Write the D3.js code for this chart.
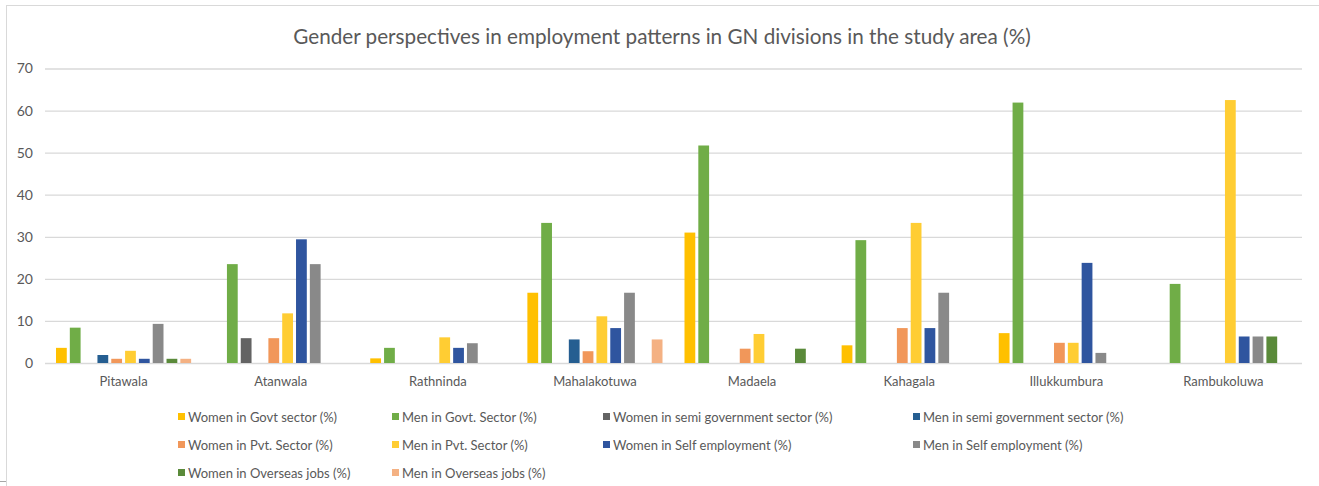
<!DOCTYPE html>
<html>
<head>
<meta charset="utf-8">
<script src="https://cdn.jsdelivr.net/npm/d3@7"></script>
<style>
  html, body { margin: 0; padding: 0; background: #fff; }
  svg { display: block; }
  text { font-family: Lato, "Open Sans", sans-serif; fill: #595959; }
</style>
</head>
<body>
<svg id="chart" width="1319" height="486"></svg>
<script>
const categories = ["Pitawala", "Atanwala", "Rathninda", "Mahalakotuwa", "Madaela", "Kahagala", "Illukkumbura", "Rambukoluwa"];
const seriesNames = [
  "Women in Govt sector (%)", "Men in Govt. Sector (%)",
  "Women in semi government sector (%)", "Men in semi government sector (%)",
  "Women in Pvt. Sector (%)", "Men in Pvt. Sector (%)",
  "Women in Self employment (%)", "Men in Self employment (%)",
  "Women in Overseas jobs (%)", "Men in Overseas jobs (%)"
];
const womenGovt     = [3.6, 0,    1.1, 16.7, 31.0, 4.2,  7.1,  0];
const menGovt       = [8.4, 23.5, 3.6, 33.3, 51.7, 29.2, 61.9, 18.8];
const womenSemiGovt = [0,   5.9,  0,   0,    0,    0,    0,    0];
const menSemiGovt   = [1.9, 0,    0,   5.6,  0,    0,    0,    0];
const womenPvt      = [1.0, 5.9,  0,   2.8,  3.4,  8.3,  4.8,  0];
const menPvt        = [2.9, 11.8, 6.1, 11.1, 6.9,  33.3, 4.8,  62.5];
const womenSelf     = [1.0, 29.4, 3.6, 8.3,  0,    8.3,  23.8, 6.3];
const menSelf       = [9.3, 23.5, 4.7, 16.7, 0,    16.7, 2.4,  6.3];
const womenOverseas = [1.0, 0,    0,   0,    3.4,  0,    0,    6.3];
const menOverseas   = [1.0, 0,    0,   5.6,  0,    0,    0,    0];
const yTicks = [0, 10, 20, 30, 40, 50, 60, 70];
const colors = ["#FFC000", "#70AD47", "#636363", "#255E91", "#F1975A", "#FFCD33", "#2F559F", "#898989", "#5A8A3A", "#F4B183"];
const title = "Gender perspectives in employment patterns in GN divisions in the study area (%)";

const seriesValues = [womenGovt, menGovt, womenSemiGovt, menSemiGovt, womenPvt, menPvt, womenSelf, menSelf, womenOverseas, menOverseas];

const svg = d3.select("#chart");

// frame
svg.append("line").attr("x1", 6.5).attr("x2", 6.5).attr("y1", 5).attr("y2", 486).attr("stroke", "#D9D9D9");
svg.append("line").attr("x1", 6).attr("x2", 1319).attr("y1", 5.5).attr("y2", 5.5).attr("stroke", "#D9D9D9");
svg.append("line").attr("x1", 0).attr("x2", 6).attr("y1", 481.5).attr("y2", 481.5).attr("stroke", "#A6A6A6");

const x0 = d3.scaleBand().domain(categories).range([45, 1302]).paddingInner(0.14).paddingOuter(0.07);
const x1 = d3.scaleBand().domain(d3.range(seriesNames.length)).range([0, x0.bandwidth()]).paddingInner(0.22);
const y = d3.scaleLinear().domain([0, 70]).range([363, 68.5]);

// gridlines
const yAxis = d3.axisLeft(y).tickValues(yTicks).tickSize(-(1302 - 45)).tickPadding(12);
const ga = svg.append("g").attr("transform", "translate(45,0)").call(yAxis);
ga.select(".domain").remove();
ga.selectAll(".tick line").attr("stroke", "#D9D9D9").attr("stroke-width", 1.3);
ga.selectAll(".tick text").attr("font-size", 14).attr("fill", "#595959").style("font-family", "Lato, sans-serif");

// bars
const groups = svg.append("g").selectAll("g").data(categories).join("g")
  .attr("transform", d => `translate(${x0(d)},0)`);
groups.selectAll("rect")
  .data((c, ci) => seriesValues.map((vals, si) => ({ si, v: vals[ci] })))
  .join("rect")
  .attr("x", d => x1(d.si))
  .attr("width", x1.bandwidth())
  .attr("y", d => y(d.v))
  .attr("height", d => y(0) - y(d.v))
  .attr("fill", d => colors[d.si]);

// category axis labels
const xAxis = d3.axisBottom(x0).tickSize(0).tickPadding(14);
const gx = svg.append("g").attr("transform", "translate(0,363)").call(xAxis);
gx.select(".domain").remove();
gx.selectAll(".tick text").attr("font-size", 13).attr("fill", "#595959").style("font-family", "Lato, sans-serif");

// title
svg.append("text").attr("x", 662).attr("y", 44).attr("text-anchor", "middle")
  .attr("font-size", 20.7).text(title);

// legend
const legendCols = [178, 392, 603, 913];
const legendRows = [417, 445, 473];
const lg = svg.append("g").selectAll("g").data(seriesNames).join("g")
  .attr("transform", (d, i) => `translate(${legendCols[i % 4]},${legendRows[Math.floor(i / 4)]})`);
lg.append("rect").attr("x", 0).attr("y", -4).attr("width", 7).attr("height", 7).attr("fill", (d, i) => colors[i]);
lg.append("text").attr("x", 10).attr("y", 0).attr("dy", "0.35em").attr("font-size", 13).text(d => d);
</script>
</body>
</html>
